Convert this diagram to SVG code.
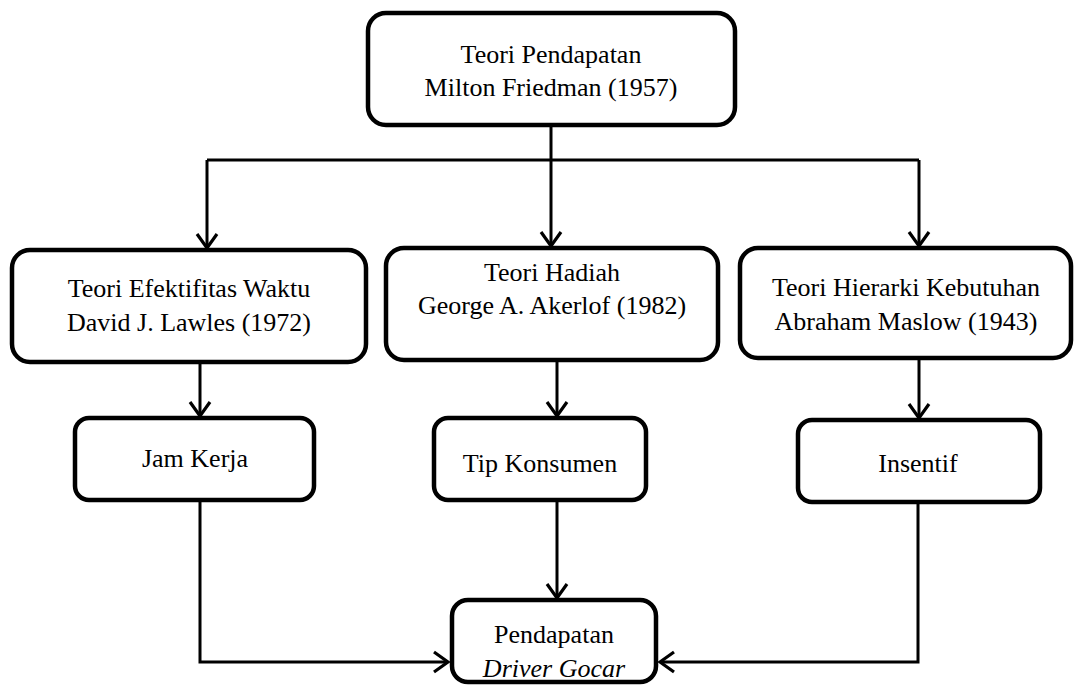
<svg xmlns="http://www.w3.org/2000/svg" width="1080" height="688" viewBox="0 0 1080 688">
<style>
.nodebox{fill:#fff;stroke:#000;stroke-width:4.5}
.conn{fill:none;stroke:#000;stroke-width:3}
</style>
<defs>
<marker id="ah" viewBox="0 0 18 24" refX="16" refY="12" markerWidth="18" markerHeight="24" markerUnits="userSpaceOnUse" orient="auto">
<path d="M2,2 L16,12 L2,22" fill="none" stroke="#000" stroke-width="3.2"/>
</marker>
</defs>
<rect width="1080" height="688" fill="#fff"/>
<g id="connectors">
<path class="conn" d="M551,126 V160"/>
<path class="conn" d="M207,160 H919"/>
<path class="conn" d="M207,160 V248" marker-end="url(#ah)"/>
<path class="conn" d="M551,160 V246" marker-end="url(#ah)"/>
<path class="conn" d="M919,160 V246" marker-end="url(#ah)"/>
<path class="conn" d="M200,362 V416" marker-end="url(#ah)"/>
<path class="conn" d="M557,360 V416" marker-end="url(#ah)"/>
<path class="conn" d="M919,358 V418" marker-end="url(#ah)"/>
<path class="conn" d="M200,500 V662 H448" marker-end="url(#ah)"/>
<path class="conn" d="M557,500 V598" marker-end="url(#ah)"/>
<path class="conn" d="M918,502 V662 H660" marker-end="url(#ah)"/>
</g>
<g id="n-top">
<rect class="nodebox" x="368" y="13" width="367" height="112" rx="18"/>
<text x="551" y="63" text-anchor="middle" style="font-family:'Liberation Serif';font-size:26px">Teori Pendapatan</text>
<text x="551" y="96" text-anchor="middle" style="font-family:'Liberation Serif';font-size:26px">Milton Friedman (1957)</text>
</g>
<g id="n-waktu">
<rect class="nodebox" x="12" y="250" width="354" height="112" rx="18"/>
<text x="189" y="297" text-anchor="middle" style="font-family:'Liberation Serif';font-size:26px">Teori Efektifitas Waktu</text>
<text x="189" y="331" text-anchor="middle" style="font-family:'Liberation Serif';font-size:26px">David J. Lawles (1972)</text>
</g>
<g id="n-hadiah">
<rect class="nodebox" x="386" y="248" width="332" height="112" rx="18"/>
<text x="552" y="281" text-anchor="middle" style="font-family:'Liberation Serif';font-size:26px">Teori Hadiah</text>
<text x="552" y="314" text-anchor="middle" style="font-family:'Liberation Serif';font-size:26px">George A. Akerlof (1982)</text>
</g>
<g id="n-hierarki">
<rect class="nodebox" x="740" y="248" width="331" height="110" rx="18"/>
<text x="906" y="296" text-anchor="middle" style="font-family:'Liberation Serif';font-size:26px">Teori Hierarki Kebutuhan</text>
<text x="906" y="330" text-anchor="middle" style="font-family:'Liberation Serif';font-size:26px">Abraham Maslow (1943)</text>
</g>
<g id="n-jam">
<rect class="nodebox" x="75" y="418" width="239" height="82" rx="14"/>
<text x="195" y="467" text-anchor="middle" style="font-family:'Liberation Serif';font-size:26px">Jam Kerja</text>
</g>
<g id="n-tip">
<rect class="nodebox" x="434" y="418" width="212" height="82" rx="14"/>
<text x="540" y="472" text-anchor="middle" style="font-family:'Liberation Serif';font-size:26px">Tip Konsumen</text>
</g>
<g id="n-insentif">
<rect class="nodebox" x="798" y="420" width="242" height="82" rx="14"/>
<text x="918" y="472" text-anchor="middle" style="font-family:'Liberation Serif';font-size:26px">Insentif</text>
</g>
<g id="n-pendapatan">
<rect class="nodebox" x="452" y="600" width="204" height="82" rx="16"/>
<text x="554" y="643" text-anchor="middle" style="font-family:'Liberation Serif';font-size:26px">Pendapatan</text>
<text x="554" y="677" text-anchor="middle" style="font-family:'Liberation Serif';font-size:26px;font-style:italic">Driver Gocar</text>
</g>
</svg>
